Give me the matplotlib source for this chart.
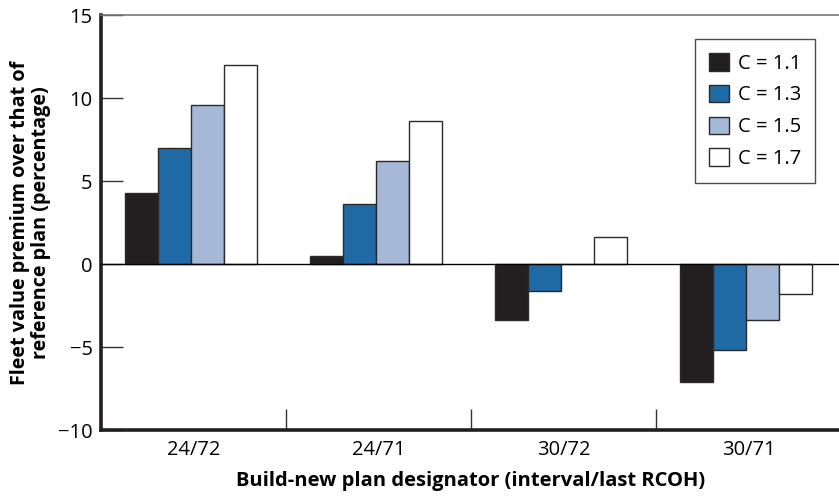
import numpy as np
import matplotlib.pyplot as plt

plt.rcParams['font.family'] = ['Open Sans', 'DejaVu Sans']

plans = ['24/72', '24/71', '30/72', '30/71']
c_labels = ['C = 1.1', 'C = 1.3', 'C = 1.5', 'C = 1.7']
c11 = [4.3, 0.5, -3.4, -7.1]
c13 = [7.0, 3.6, -1.6, -5.2]
c15 = [9.6, 6.2, 0.0, -3.4]
c17 = [12.0, 8.6, 1.6, -1.8]
series = [c11, c13, c15, c17]
colors = ['#231f20', '#1f6aa5', '#a6b8d8', 'white']

fig = plt.figure(figsize=(8.39, 5.01), dpi=100)
ax = fig.add_axes([0.1204, 0.1417, 0.882, 0.8283])

x = np.arange(len(plans))
w = 0.178
for i, vals in enumerate(series):
    ax.bar(x + (i - 1.5) * w - 0.015, vals, w, color=colors[i],
           edgecolor='#2a2a2a', linewidth=1.0, label=c_labels[i], zorder=2)

ax.axhline(0, color='black', linewidth=1.0, zorder=3)

ax.set_xlim(-0.5, 3.5)
ax.set_ylim(-10, 15)
ax.set_yticks([-10, -5, 0, 5, 10, 15])
ax.set_xticks(x)
ax.set_xticklabels(plans, fontsize=14.5)
ax.set_xticks([0.5, 1.5, 2.5], minor=True)
ax.tick_params(axis='x', which='major', length=0, pad=7)
ax.tick_params(axis='x', which='minor', direction='in', length=15, width=1, color='#333333')
ax.tick_params(axis='y', direction='in', length=16, width=1, color='#333333', labelsize=14.5, pad=6)

for side in ['left', 'bottom']:
    ax.spines[side].set_linewidth(2.6)
    ax.spines[side].set_color('#231f20')
ax.spines['top'].set_linewidth(1.2)
ax.spines['top'].set_color('#777777')
ax.spines['right'].set_visible(False)

ax.set_ylabel('Fleet value premium over that of\nreference plan (percentage)',
              fontsize=14.2, fontweight='bold', linespacing=1.1, labelpad=5)
ax.set_xlabel('Build-new plan designator (interval/last RCOH)',
              fontsize=14.5, fontweight='bold', labelpad=8)

leg = ax.legend(loc='upper right', bbox_to_anchor=(0.965, 0.942), fontsize=14.5,
                frameon=True, fancybox=False, edgecolor='#231f20',
                handlelength=0.95, handleheight=0.95, handletextpad=0.45,
                borderpad=0.7, labelspacing=0.55, borderaxespad=0)
leg.get_frame().set_linewidth(1.0)

fig.savefig('out.png', dpi=100)
